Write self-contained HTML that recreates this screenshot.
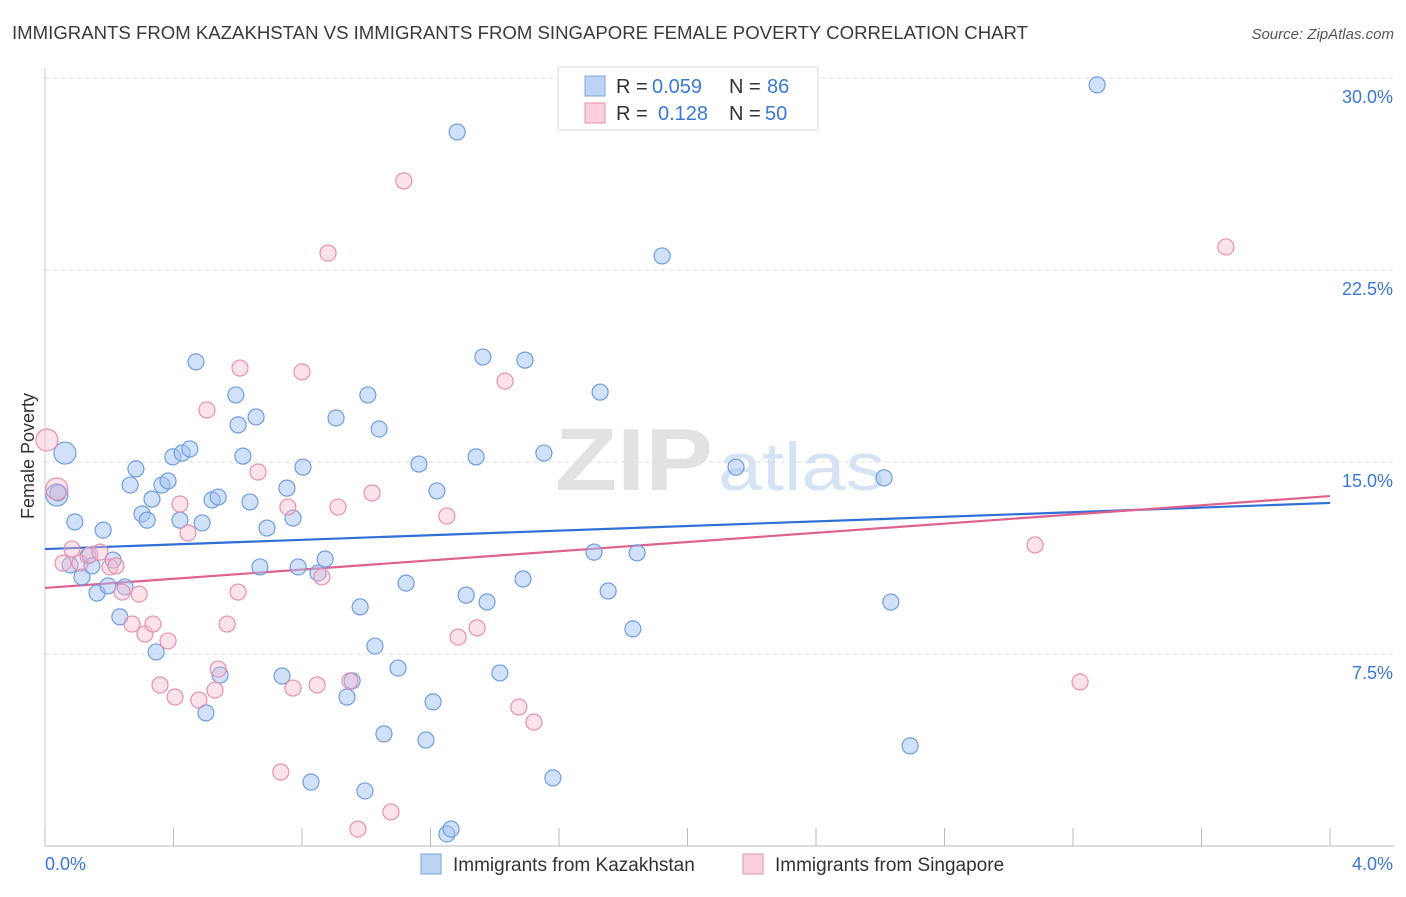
<!DOCTYPE html>
<html><head><meta charset="utf-8"><style>
body{margin:0;background:#fff;font-family:"Liberation Sans",sans-serif;}
svg text{font-family:"Liberation Sans",sans-serif;}
</style></head><body>
<svg id="chart" width="1406" height="892" xmlns="http://www.w3.org/2000/svg">
<text x="12" y="39" font-size="18" fill="#3a3a3a" textLength="1016" lengthAdjust="spacingAndGlyphs">IMMIGRANTS FROM KAZAKHSTAN VS IMMIGRANTS FROM SINGAPORE FEMALE POVERTY CORRELATION CHART</text>
<text x="1394" y="39" font-size="15" fill="#555" text-anchor="end" font-style="italic">Source: ZipAtlas.com</text>
<g>
<text x="555" y="490" font-size="88" fill="#e2e2e2" font-family="Liberation Serif" font-weight="bold" textLength="158" lengthAdjust="spacingAndGlyphs">ZIP</text>
<text x="718" y="490" font-size="68" fill="#d6e3f4" textLength="167" lengthAdjust="spacingAndGlyphs">atlas</text>
</g>
<g id="grid"></g>
<g id="axes"></g>
<g id="trends"></g>
<g id="points"></g>
<text transform="translate(34,456) rotate(-90)" font-size="18" fill="#333" text-anchor="middle">Female Poverty</text>
<g>
<rect x="558" y="67" width="260" height="63" fill="#fff" stroke="#ddd"/>
<rect x="585" y="76" width="20" height="20" fill="#bcd3f5" stroke="#7ba3e0"/>
<text x="616" y="93" font-size="20" fill="#333">R = </text><text x="652" y="93" font-size="20" fill="#3a78d8">0.059</text>
<text x="729" y="93" font-size="20" fill="#333">N = </text><text x="767" y="93" font-size="20" fill="#3a78d8">86</text>
<rect x="585" y="103" width="20" height="20" fill="#fbd0dc" stroke="#e990ad"/>
<text x="616" y="120" font-size="20" fill="#333">R = </text><text x="658" y="120" font-size="20" fill="#3a78d8">0.128</text>
<text x="729" y="120" font-size="20" fill="#333">N = </text><text x="765" y="120" font-size="20" fill="#3a78d8">50</text>
</g>
<g>
<rect x="421" y="854" width="20" height="20" fill="#bcd3f5" stroke="#7ba3e0"/>
<text x="453" y="871" font-size="19" fill="#333">Immigrants from Kazakhstan</text>
<rect x="743" y="854" width="20" height="20" fill="#fbd0dc" stroke="#e990ad"/>
<text x="775" y="871" font-size="19" fill="#333">Immigrants from Singapore</text>
</g>
</svg>
<script>
const yTicks=[7.5,15,22.5,30];
const yTickLabels=["7.5%","15.0%","22.5%","30.0%"];
const xLabels=["0.0%","4.0%"];
const blueX=[0.037,0.062,0.040,0.093,0.078,0.115,0.134,0.146,0.162,0.181,0.212,0.196,0.249,0.233,0.265,0.283,0.302,0.318,0.333,0.346,0.364,0.383,0.398,0.420,0.427,0.451,0.470,0.489,0.501,0.520,0.539,0.545,0.594,0.601,0.616,0.638,0.657,0.669,0.691,0.738,0.753,0.772,0.788,0.803,0.828,0.850,0.872,0.906,0.940,0.956,0.981,0.996,1.005,1.027,1.040,1.055,1.099,1.124,1.164,1.186,1.208,1.220,1.251,1.264,1.283,1.311,1.342,1.363,1.376,1.416,1.488,1.494,1.553,1.581,1.709,1.728,1.753,1.830,1.843,1.921,2.151,2.612,2.633,2.693,3.275];
const blueY=[13.71,15.35,13.79,12.66,10.98,10.51,11.33,10.94,9.88,12.34,11.17,10.16,10.12,8.95,14.10,14.73,12.97,12.73,13.55,7.58,14.10,14.26,15.20,12.73,15.35,15.51,18.91,12.62,5.20,13.52,13.63,6.68,17.62,16.45,15.23,13.44,16.76,10.90,12.42,6.64,13.98,12.81,10.90,14.80,2.50,10.66,11.21,16.72,5.82,6.45,9.34,2.15,17.62,7.81,16.29,4.38,6.95,10.27,14.92,4.14,5.63,13.87,0.47,0.66,27.89,9.80,15.20,19.10,9.53,6.76,10.43,18.98,15.35,2.66,11.48,17.73,9.96,8.48,11.45,23.05,14.80,14.38,9.53,3.91,29.73];
const blueR=[11,11,8,8,8,8,8,8,8,8,8,8,8,8,8,8,8,8,8,8,8,8,8,8,8,8,8,8,8,8,8,8,8,8,8,8,8,8,8,8,8,8,8,8,8,8,8,8,8,8,8,8,8,8,8,8,8,8,8,8,8,8,8,8,8,8,8,8,8,8,8,8,8,8,8,8,8,8,8,8,8,8,8,8,8];
const pinkX=[0.006,0.037,0.056,0.084,0.109,0.140,0.171,0.202,0.221,0.240,0.271,0.293,0.311,0.336,0.358,0.383,0.405,0.420,0.445,0.479,0.504,0.529,0.539,0.567,0.601,0.607,0.663,0.734,0.756,0.772,0.800,0.847,0.862,0.881,0.912,0.949,0.974,1.018,1.077,1.117,1.251,1.286,1.345,1.432,1.475,1.522,3.082,3.222,3.676];
const pinkY=[15.86,13.95,11.05,11.60,11.05,11.37,11.48,10.90,10.94,9.92,8.67,9.84,8.28,8.67,6.29,8.01,5.82,13.36,12.23,5.70,17.03,6.09,6.91,8.67,9.92,18.67,14.61,2.89,13.24,6.17,18.52,6.29,10.51,23.16,13.24,6.45,0.66,13.79,1.33,25.98,12.89,8.16,8.52,18.16,5.43,4.84,11.76,6.41,23.40];
const blueTrend=[11.60,13.40];
const pinkTrend=[10.08,13.67];
const NS="http://www.w3.org/2000/svg";
const X0=45,X1=1330,Y0=846,Y1=78;
function sx(v){return X0+(v/4)*(X1-X0);}
function sy(v){return Y0-(v/30)*(Y0-Y1);}
function mk(tag,attrs,parent){const e=document.createElementNS(NS,tag);for(const k in attrs)e.setAttribute(k,attrs[k]);document.getElementById(parent).appendChild(e);return e;}
yTicks.forEach((t,i)=>{
 const g=mk('line',{x1:X0,x2:1394,y1:sy(t),y2:sy(t),stroke:'#ddd','stroke-dasharray':'4,4'},'grid');
 
 
 const l=mk('text',{x:1393,y:sy(t)+25,'font-size':18,fill:'#3a78d8','text-anchor':'end'},'axes');
 l.textContent=yTickLabels[i];
 
 
});
const ax=mk('line',{x1:X0,x2:1394,y1:Y0,y2:Y0,stroke:'#bbb'},'axes');


const ay=mk('line',{x1:X0,x2:X0,y1:68,y2:Y0,stroke:'#ccc'},'axes');


for(let i=0;i<=10;i++){
 const t=mk('line',{x1:sx(i*0.4),x2:sx(i*0.4),y1:Y0,y2:Y0-18,stroke:'#bbb'},'axes');
 
 
}
[[0,'start',45],[4,'end',1393]].forEach((d,i)=>{
 const t=mk('text',{x:d[2],y:870,'font-size':18,fill:'#3a78d8','text-anchor':d[1]},'axes');
 t.textContent=xLabels[i];
 
 
});
blueX.forEach((x,i)=>{
 const c=mk('circle',{cx:sx(x),cy:sy(blueY[i]),r:blueR[i],fill:'rgba(164,196,244,0.5)',stroke:'#6f9de0','stroke-width':1.2},'points');
 
 
});
pinkX.forEach((x,i)=>{
 const c=mk('circle',{cx:sx(x),cy:sy(pinkY[i]),r:i<2?11:8,fill:'rgba(248,184,204,0.4)',stroke:'#e890ae','stroke-width':1.2},'points');
 
 
});
const bt=mk('line',{x1:sx(0),x2:sx(4),y1:sy(blueTrend[0]),y2:sy(blueTrend[1]),stroke:'#2f6fd6','stroke-width':2.2},'trends');


const pt=mk('line',{x1:sx(0),x2:sx(4),y1:sy(pinkTrend[0]),y2:sy(pinkTrend[1]),stroke:'#e0608e','stroke-width':2.2},'trends');


</script>
</body></html>
